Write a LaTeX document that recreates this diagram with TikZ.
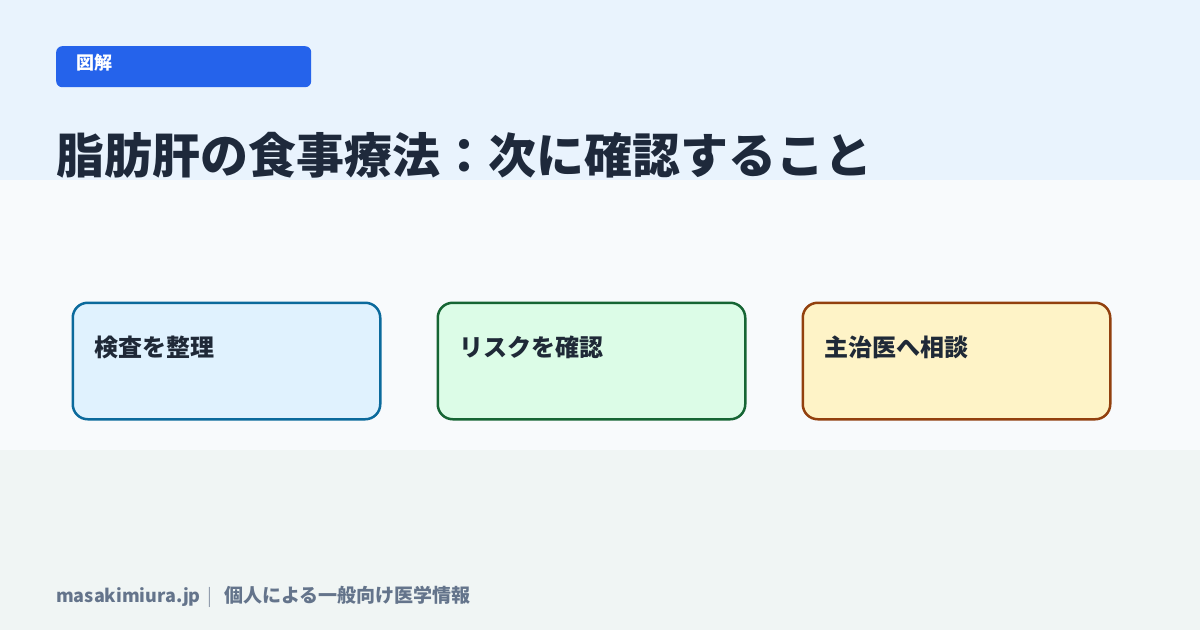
\documentclass[tikz,border=0pt]{standalone}
\usepackage{fontspec}
\setmainfont{Noto Sans CJK JP}
\usetikzlibrary{positioning}

\definecolor{topbg}{HTML}{E9F3FD}
\definecolor{midbg}{HTML}{F8FAFC}
\definecolor{botbg}{HTML}{F0F5F4}
\definecolor{badgeblue}{HTML}{2563EB}
\definecolor{titleink}{HTML}{1E293B}
\definecolor{boxink}{HTML}{1F2937}
\definecolor{footink}{HTML}{64748B}
\definecolor{checkfill}{HTML}{E0F2FE}
\definecolor{checkline}{HTML}{0B6A9C}
\definecolor{riskfill}{HTML}{DCFCE7}
\definecolor{riskline}{HTML}{166534}
\definecolor{askfill}{HTML}{FEF3C7}
\definecolor{askline}{HTML}{92400E}

\tikzset{
  txt/.style={inner sep=0pt, anchor=base west},
  stepcard/.style={draw, line width=2.5pt, rounded corners=15pt,
    minimum width=307.5pt, minimum height=116.5pt, anchor=north west, inner sep=0pt},
  cardlabel/.style={txt, text=boxink, font=\bfseries\fontsize{24}{28}\selectfont},
}

\begin{document}
\begin{tikzpicture}[x=1pt, y=-1pt]
    % bands
    \fill[topbg] (0,0) rectangle (1200,180);
    \fill[midbg] (0,180) rectangle (1200,450);
    \fill[botbg] (0,450) rectangle (1200,630);
    \useasboundingbox (0,0) rectangle (1200,630);
    % badge and title
    \node[fill=badgeblue, rounded corners=6pt, minimum width=255pt, minimum height=41pt,
      anchor=north west, inner sep=0pt] (badge) at (56,46) {};
    \node[txt, text=white, font=\bfseries\fontsize{18}{20}\selectfont] (badge-t) at (76.5,69.5) {図解};
    \node[txt, text=titleink, font=\bfseries\fontsize{48}{56}\selectfont] (title) at (56,173)
      {脂肪肝の食事療法：次に確認すること};
    % cards
    \foreach \n/\x/\f/\l/\t in {check/71.5/checkfill/checkline/検査を整理,
                                risk/436.5/riskfill/riskline/リスクを確認,
                                ask/801.5/askfill/askline/主治医へ相談}{
        \node[stepcard, fill=\f, draw=\l] (\n) at (\x,301.5) {};
        \node[cardlabel] (\n-t) at ([xshift=23pt, yshift=-55pt]\n.north west) {\t};
    }
    % footer
    \node[txt, text=footink, font=\bfseries\fontsize{18}{22}\selectfont] (site) at (56,602) {masakimiura.jp};
    \node[txt, text=footink!70, font=\fontsize{18}{22}\selectfont] (bar) at (207,602) {|};
    \node[txt, text=footink, font=\bfseries\fontsize{19}{22}\selectfont] (note) at (224,602) {個人による一般向け医学情報};
\end{tikzpicture}
\end{document}
